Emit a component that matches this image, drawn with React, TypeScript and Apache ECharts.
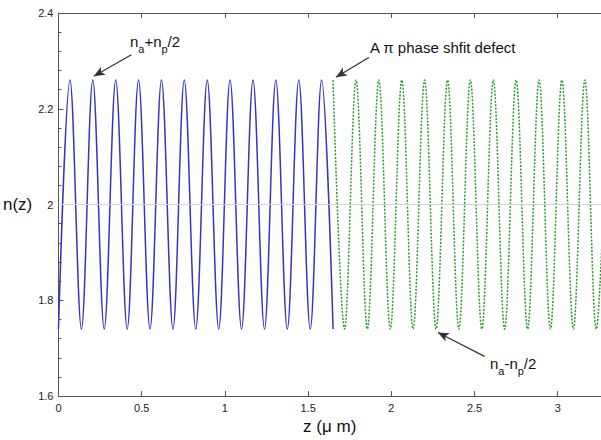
import React, { useEffect, useRef } from "react";
import * as echarts from "echarts";

// positions (z, µm) of the successive extrema
const blueZ = [0, 0.069, 0.138, 0.206, 0.275, 0.344, 0.413, 0.481, 0.55, 0.619, 0.688, 0.756, 0.825, 0.894, 0.963, 1.031, 1.1, 1.169, 1.238, 1.306, 1.375, 1.444, 1.513, 1.581, 1.65];
const blueN = [1.74, 2.26, 1.74, 2.26, 1.74, 2.26, 1.74, 2.26, 1.74, 2.26, 1.74, 2.26, 1.74, 2.26, 1.74, 2.26, 1.74, 2.26, 1.74, 2.26, 1.74, 2.26, 1.74, 2.26, 1.74];
const greenZ = [1.65, 1.719, 1.788, 1.856, 1.925, 1.994, 2.063, 2.131, 2.2, 2.269, 2.338, 2.406, 2.475, 2.544, 2.613, 2.681, 2.75, 2.819, 2.888, 2.956, 3.025, 3.094, 3.163, 3.231, 3.3];
const greenN = [2.26, 1.74, 2.26, 1.74, 2.26, 1.74, 2.26, 1.74, 2.26, 1.74, 2.26, 1.74, 2.26, 1.74, 2.26, 1.74, 2.26, 1.74, 2.26, 1.74, 2.26, 1.74, 2.26, 1.74, 2.26];

const xMin = 0;
const xMax = 3.26;
const xStep = 0.5;
const yMin = 1.6;
const yMax = 2.4;
const yStep = 0.2;
const centerLine = 2;

// annotation arrows: [tail, tip] in data coordinates
const arrowPeak = [[0.438, 2.313], [0.212, 2.268]];
const arrowDefect = [[1.865, 2.307], [1.667, 2.266]];
const arrowTrough = [[2.56, 1.683], [2.28, 1.733]];

const FONT = "'Liberation Sans', Arial, Helvetica, sans-serif";
const AXIS_COLOR = "#555";

function arrow(pair: number[][]) {
  return [
    { coord: pair[0], symbol: "none" },
    { coord: pair[1], symbol: "arrow", symbolSize: [7, 11] },
  ];
}

function txt(text: string, x: number, y: number, size: number) {
  return {
    type: "text",
    x,
    y,
    style: { text, font: `${size}px ${FONT}`, fill: "#111", verticalAlign: "middle", align: "left" },
  };
}

function subLabel(x: number, y: number, op: string) {
  // n_a <op> n_p /2  with manual sub-script layout
  const items: any[] = [];
  items.push(txt("n", x, y, 15));
  items.push(txt("a", x + 8.3, y + 8, 11));
  const opW = op === "+" ? 8.8 : 5;
  items.push(txt(op + "n", x + 14.4, y, 15));
  items.push(txt("p", x + 14.4 + opW + 8.3, y + 8, 11));
  items.push(txt("/2", x + 14.4 + opW + 8.3 + 6.1, y, 15));
  return items;
}

export default function App() {
  const ref = useRef<HTMLDivElement>(null);
  useEffect(() => {
    if (!ref.current) return;
    const chart = echarts.init(ref.current, null, { renderer: "svg" });
    const blue = blueZ.map((z, i) => [z, blueN[i]]);
    const green = greenZ.map((z, i) => [z, greenN[i]]);
    const axisCommon = {
      type: "value",
      min: xMin,
      max: xMax,
      interval: xStep,
      axisLine: { show: true, lineStyle: { color: AXIS_COLOR, width: 1 } },
      axisTick: { show: true, inside: true, length: 5, lineStyle: { color: AXIS_COLOR } },
      splitLine: { show: false },
    };
    chart.setOption({
      animation: false,
      backgroundColor: "#fff",
      grid: { left: 57, right: 0, top: 13, bottom: 39 },
      xAxis: [
        {
          ...axisCommon,
          position: "bottom",
          name: "z (\u03bc m)",
          nameLocation: "middle",
          nameGap: 21,
          nameTextStyle: { fontFamily: FONT, fontSize: 17, color: "#111", verticalAlign: "top" },
          axisLabel: { show: true, showMaxLabel: false, margin: 6, fontFamily: FONT, fontSize: 11, color: "#222" },
        },
        {
          ...axisCommon,
          position: "top",
          axisLabel: { show: false },
        },
      ],
      yAxis: {
        type: "value",
        min: yMin,
        max: yMax,
        interval: yStep,
        name: "n(z)",
        nameLocation: "middle",
        nameRotate: 0,
        nameGap: 20,
        nameTextStyle: { fontFamily: FONT, fontSize: 17, color: "#111", padding: [0, 0, 8, 0] },
        axisLine: { show: true, lineStyle: { color: AXIS_COLOR, width: 1 } },
        axisTick: { show: true, inside: true, length: 5, lineStyle: { color: AXIS_COLOR } },
        minorTick: { show: true, splitNumber: 5, length: 3, lineStyle: { color: AXIS_COLOR } },
        splitLine: { show: false },
        axisLabel: { margin: 5, fontFamily: FONT, fontSize: 11, color: "#222" },
      },
      series: [
        {
          type: "line",
          data: blue,
          smooth: 0.36,
          showSymbol: false,
          silent: true,
          lineStyle: { color: "#3434c8", width: 1.5 },
          markLine: {
            silent: true,
            symbol: "none",
            label: { show: false },
            lineStyle: { color: "#333", type: "solid", width: 1.2 },
            data: [arrow(arrowPeak), arrow(arrowDefect), arrow(arrowTrough)],
          },
        },
        {
          type: "line",
          data: green,
          smooth: 0.36,
          showSymbol: false,
          silent: true,
          lineStyle: { color: "#2e9a2e", width: 1.5, type: [2, 1.5] },
          markLine: {
            silent: true,
            symbol: "none",
            label: { show: false },
            lineStyle: { color: "#d4d4d4", type: "solid", width: 1 },
            data: [{ yAxis: centerLine }],
          },
        },
      ],
      graphic: [
        ...subLabel(130, 41, "+"),
        txt("A \u03c0 phase shfit defect", 370, 47, 15),
        ...subLabel(490, 363, "-"),
      ],
    });
    return () => chart.dispose();
  }, []);
  return <div ref={ref} style={{ position: "fixed", left: 0, top: 0, width: 601, height: 440 }} />;
}
